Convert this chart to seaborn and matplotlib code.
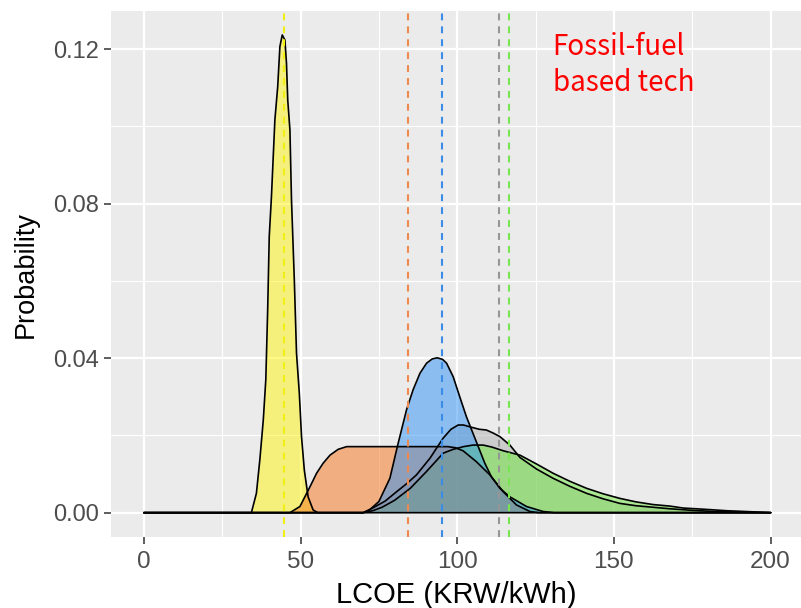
import matplotlib
matplotlib.use("Agg")
import matplotlib.pyplot as plt
import seaborn as sns
from matplotlib.ticker import MultipleLocator

# Density curves of levelised cost of electricity (LCOE, KRW/kWh)
yellow_x = [0, 34.3, 35.9, 37.0, 38.1, 38.9, 39.5, 40.0, 40.7, 41.8, 42.7, 43.4, 44.15,
            45.0, 45.5, 45.9, 46.6, 47.1, 48.0, 48.7, 49.6, 50.3, 51.2, 52.4, 54.0, 55.5, 200]
yellow_y = [0, 0, 0.0050, 0.0137, 0.0240, 0.0344, 0.0525, 0.0715, 0.0818, 0.1017, 0.1103,
            0.1207, 0.1237, 0.1224, 0.1164, 0.1069, 0.0991, 0.0810, 0.0603, 0.0413, 0.0309,
            0.0197, 0.0110, 0.0041, 0.0007, 0, 0]

orange_x = [0, 46.6, 49.8, 53.0, 55.1, 57.2, 59.4, 62.0, 64.7, 97.0, 99.5, 101.9, 106.1,
            110.4, 114.7, 118.9, 123.2, 126.0, 200]
orange_y = [0, 0, 0.0016, 0.0067, 0.0102, 0.0128, 0.0149, 0.0164, 0.0171, 0.0171, 0.0168,
            0.0160, 0.0132, 0.0098, 0.0054, 0.0020, 0.0003, 0, 0]

blue_x = [0, 70, 72, 75, 78.5, 81, 83.8, 85.9, 88.1, 90.2, 92, 93.6, 95.3, 96.6, 98.7,
          100.8, 102.9, 104.6, 106.7, 108.8, 110.9, 113.6, 116.8, 122.1, 127.4, 131, 200]
blue_y = [0, 0, 0.0007, 0.0029, 0.0089, 0.0175, 0.0266, 0.0318, 0.0361, 0.0387, 0.0398,
          0.0401, 0.0397, 0.0387, 0.0352, 0.0300, 0.0249, 0.0214, 0.0171, 0.0128, 0.0093,
          0.0063, 0.0041, 0.0016, 0.0003, 0, 0]

gray_x = [0, 70, 73, 77, 80.6, 84, 87, 91.3, 95.5, 98, 100.3, 102, 104.6, 107, 109.3,
          111.5, 113.6, 116.8, 120, 125.3, 130.6, 136, 141.3, 146.5, 151.9, 157, 162.5,
          168, 175, 182, 190, 200]
gray_y = [0, 0, 0.0012, 0.0030, 0.0054, 0.0076, 0.0098, 0.0141, 0.0193, 0.0216, 0.0227,
          0.0227, 0.0221, 0.0216, 0.0214, 0.0206, 0.0197, 0.0175, 0.0143, 0.0113, 0.0089,
          0.0068, 0.0050, 0.0036, 0.0024, 0.0018, 0.0014, 0.0010, 0.0006, 0.0003, 0.0001, 0]

green_x = [0, 70, 73, 76, 80, 85, 90, 95.5, 98.7, 102, 105, 108.3, 111, 114.8, 120, 125.3,
           130.6, 136, 141.3, 146.5, 151.9, 157, 162.5, 167.9, 172.1, 178.5, 186, 192,
           197.6, 200]
green_y = [0, 0, 0.0005, 0.0014, 0.0032, 0.0063, 0.0105, 0.0154, 0.0164, 0.0171, 0.0175,
           0.0175, 0.0170, 0.0160, 0.0149, 0.0126, 0.0102, 0.0081, 0.0063, 0.0049, 0.0037,
           0.0028, 0.0021, 0.0017, 0.0012, 0.0009, 0.0005, 0.0003, 0.0001, 0]

# Mean LCOE of each technology
mean_values = {"yellow": 44.8, "orange": 84.4, "blue": 95.2, "gray": 113.2, "green": 116.4}

x_ticks = [0, 50, 100, 150, 200]
y_ticks = [0.00, 0.04, 0.08, 0.12]
y_tick_labels = ["0.00", "0.04", "0.08", "0.12"]

fill_colors = {"yellow": "#FFF50F", "orange": "#F57319", "blue": "#2D91F5",
               "gray": "#AFAFAF", "green": "#6EE63C"}
mean_colors = {"yellow": "#F0F014", "orange": "#EE8A50", "blue": "#3A8CE6",
               "gray": "#969696", "green": "#78E650"}

curves = {"yellow": (yellow_x, yellow_y), "orange": (orange_x, orange_y),
          "blue": (blue_x, blue_y), "gray": (gray_x, gray_y), "green": (green_x, green_y)}
draw_order = ["yellow", "gray", "green", "orange", "blue"]

sns.set_theme(style="darkgrid", rc={
    "axes.facecolor": "#EBEBEB",
    "grid.color": "white",
    "axes.edgecolor": "none",
})
plt.rcParams["font.family"] = ["Liberation Sans", "DejaVu Sans"]

fig = plt.figure(figsize=(8.01, 6.08), dpi=100)
ax = fig.add_axes([111 / 801, 71 / 608, 690 / 801, 526 / 608])

for name in draw_order:
    xs, ys = curves[name]
    ax.fill_between(xs, ys, 0, color=fill_colors[name], alpha=0.5, lw=0, zorder=2)
    sns.lineplot(x=xs, y=ys, ax=ax, color="black", lw=1.2, sort=False,
                 estimator=None, zorder=3)

for name in ["yellow", "orange", "blue", "gray", "green"]:
    ax.axvline(mean_values[name], color=mean_colors[name], lw=1.5,
               linestyle=(0, (3.3, 2.9)), zorder=4)

ax.set_xlim(-10.5, 209.7)
ax.set_ylim(-0.0063, 0.1299)
ax.set_xticks(x_ticks)
ax.set_yticks(y_ticks)
ax.set_yticklabels(y_tick_labels)
ax.xaxis.set_minor_locator(MultipleLocator(25))
ax.yaxis.set_minor_locator(MultipleLocator(0.02))
ax.grid(which="major", color="white", lw=1.6)
ax.grid(which="minor", color="white", lw=0.8)
ax.set_axisbelow(True)

ax.tick_params(axis="both", which="major", length=5, width=1.1, color="#333333",
               labelcolor="#4D4D4D", direction="out", bottom=True, left=True)
ax.tick_params(axis="x", labelsize=17.5, pad=5)
ax.tick_params(axis="y", labelsize=17, pad=4)
ax.tick_params(which="minor", length=0)

ax.set_xlabel("LCOE (KRW/kWh)", fontsize=21, color="black", labelpad=6)
ax.set_ylabel("Probability", fontsize=19.5, color="black", labelpad=10)

fig.text(552.7 / 801, 1 - 55 / 608, "Fossil-fuel", color="#FF0000", fontsize=20,
         family=["Noto Sans CJK KR", "DejaVu Sans"], va="baseline", ha="left")
fig.text(552.7 / 801, 1 - 90.7 / 608, "based tech", color="#FF0000", fontsize=20,
         family=["Noto Sans CJK KR", "DejaVu Sans"], va="baseline", ha="left")

fig.savefig("out.png", dpi=100)
